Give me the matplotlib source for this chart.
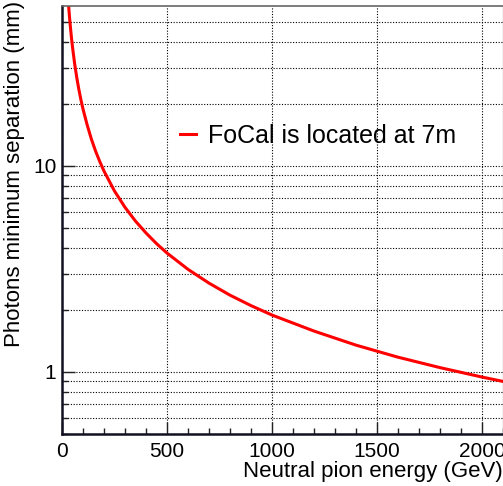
import numpy as np
import matplotlib
matplotlib.use("Agg")
from matplotlib import pyplot as plt
from matplotlib.ticker import FixedLocator, NullFormatter, MultipleLocator

plt.rcParams['font.family'] = ['Liberation Sans', 'DejaVu Sans']

# pion energy (GeV) vs minimum photon separation at the FoCal (mm)
energy = [31, 35, 40, 45, 50, 60, 70, 80, 90, 100, 120, 140, 160, 180, 200,
          250, 300, 350, 400, 450, 500, 600, 700, 800, 900, 1000, 1200, 1400,
          1600, 1800, 2000, 2100]
separation = [61, 54, 47.3, 42, 37.8, 31.5, 27, 23.6, 21, 18.9, 15.8, 13.5,
              11.8, 10.5, 9.45, 7.56, 6.3, 5.4, 4.73, 4.2, 3.78, 3.15, 2.7,
              2.36, 2.1, 1.89, 1.58, 1.35, 1.18, 1.05, 0.945, 0.9]

x_major = [0, 500, 1000, 1500, 2000]
y_major = [1, 10]
y_minor = [0.5, 0.6, 0.7, 0.8, 0.9, 2, 3, 4, 5, 6, 7, 8, 9, 20, 30, 40, 50]

W, H = 503, 486
fig = plt.figure(figsize=[W/100, H/100], dpi=100)
ax = fig.add_axes([62/W, 1 - 434/H, 1 - 62/W, (434 - 5.7)/H])

ax.plot(energy, separation, color='#ff0000', linewidth=2.2,
        label='FoCal is located at 7m')

ax.set_yscale('log')
ax.set_xlim(0, 2100)
ax.set_ylim(0.5, 60)

# ticks inside like ROOT
ax.xaxis.set_major_locator(FixedLocator(x_major))
ax.xaxis.set_minor_locator(MultipleLocator(100))
ax.yaxis.set_major_locator(FixedLocator(y_major))
ax.yaxis.set_minor_locator(FixedLocator(y_minor))
ax.yaxis.set_minor_formatter(NullFormatter())
ax.set_yticklabels(['1', '10'])
ax.tick_params(which='both', direction='in', top=False, right=False,
               labelsize=15, color='#222222')
ax.tick_params(which='major', length=9, width=1)
ax.tick_params(which='minor', length=4.5, width=1)
ax.tick_params(axis='x', pad=6)
ax.tick_params(axis='y', pad=4)

# dotted grid
ax.grid(which='major', axis='both', linestyle=(0, (1, 1.5)), color='black',
        linewidth=0.8)
ax.grid(which='minor', axis='y', linestyle=(0, (1, 1.5)), color='black',
        linewidth=0.8)

for s in ['left', 'bottom']:
    ax.spines[s].set_linewidth(1.8)
    ax.spines[s].set_color('#111122')
ax.spines['top'].set_color('#666666')
ax.spines['top'].set_linewidth(1.2)

ax.set_xlabel('Neutral pion energy (GeV)', fontsize=16, loc='right',
              labelpad=0)
# y title hangs from the top left corner of the canvas
ax.set_ylabel('Photons minimum separation (mm)', fontsize=16, ha='right',
              va='top', rotation_mode='anchor')
ax.yaxis.set_label_coords((4 - 62) / (W - 62), 1 + 4.7 / (434 - 5.7))

ax.legend(loc='center left', bbox_to_anchor=(180/W, 1 - 136/H),
          bbox_transform=fig.transFigure, frameon=False, fontsize=18,
          borderpad=0, borderaxespad=0, handlelength=0.64,
          handletextpad=0.48)

fig.savefig('out.png', dpi=100)
